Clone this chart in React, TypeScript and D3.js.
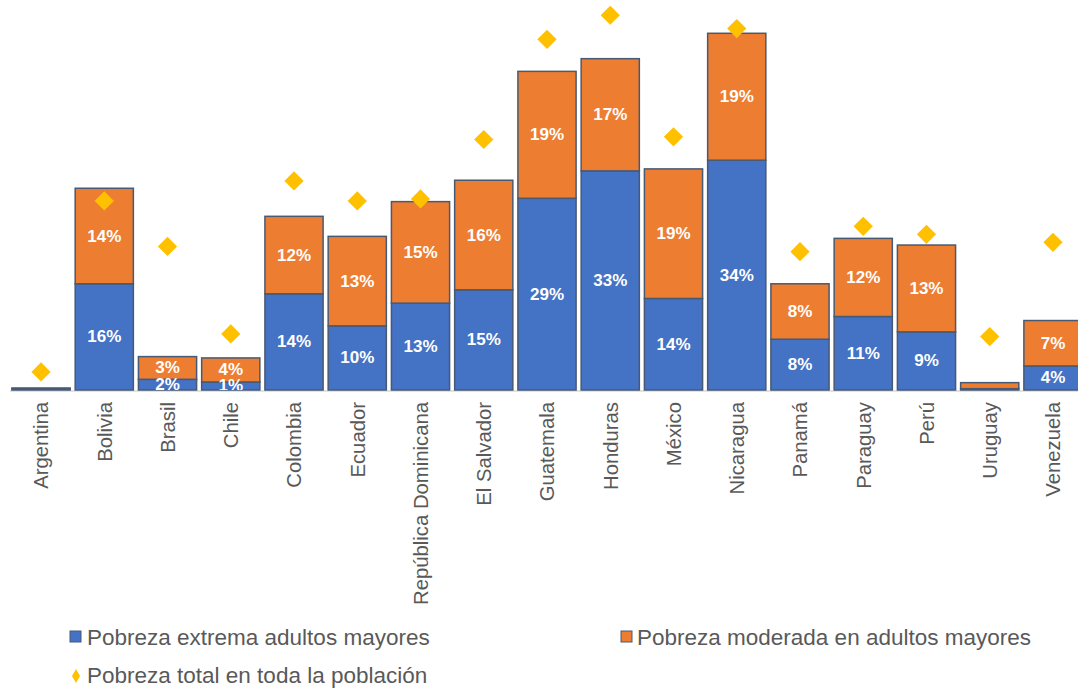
import { useEffect, useRef } from 'react';
import * as d3 from 'd3';

const categories = [
  'Argentina', 'Bolivia', 'Brasil', 'Chile', 'Colombia', 'Ecuador', 'República Dominicana',
  'El Salvador', 'Guatemala', 'Honduras', 'México', 'Nicaragua', 'Panamá', 'Paraguay',
  'Perú', 'Uruguay', 'Venezuela',
];
// % values
const extrema = [0.2, 15.9, 1.6, 1.2, 14.4, 9.6, 13.0, 15.0, 28.7, 32.8, 13.7, 34.4, 7.6, 11.0, 8.7, 0.2, 3.6];
const moderada = [0.1, 14.3, 3.4, 3.6, 11.6, 13.4, 15.2, 16.4, 19.0, 16.8, 19.4, 19.0, 8.3, 11.7, 13.0, 0.9, 6.8];
const totalPoblacion = [2.7, 28.3, 21.5, 8.4, 31.3, 28.3, 28.6, 37.5, 52.5, 56.1, 37.9, 54.1, 20.7, 24.5, 23.3, 8.0, 22.1];

const seriesNames = ['Pobreza extrema adultos mayores', 'Pobreza moderada en adultos mayores', 'Pobreza total en toda la población'];
const colors = ['#4472c4', '#ed7d31', '#ffc000'];

const W = 1078;
const H = 692;
const FONT = '"Liberation Sans", Arial, sans-serif';

export default function App() {
  const svgRef = useRef<SVGSVGElement>(null);

  useEffect(() => {
    document.body.style.margin = '0';
    if (!svgRef.current) return;
    const svg = d3.select(svgRef.current);
    svg.selectAll('*').remove();

    const baseY = 390;
    const pxPerPct = 6.68;

    const x = d3.scaleBand<string>()
      .domain(categories)
      .range([9.4, 1084.6])
      .paddingInner(0.08)
      .paddingOuter(0.04);

    const y = d3.scaleLinear()
      .domain([0, 60])
      .range([baseY, baseY - 60 * pxPerPct]);

    const defs = svg.append('defs');
    defs.append('clipPath').attr('id', 'plot-clip')
      .append('rect').attr('x', 0).attr('y', 0).attr('width', W).attr('height', baseY);

    const rows = categories.map((c, i) => ({ c, e: extrema[i], m: moderada[i], t: totalPoblacion[i] }));

    // axis line
    svg.append('line')
      .attr('x1', 10).attr('x2', W)
      .attr('y1', baseY + 1).attr('y2', baseY + 1)
      .attr('stroke', '#d9d9d9').attr('stroke-width', 1.5);

    const bars = svg.append('g');
    rows.forEach(d => {
      const bx = x(d.c)!;
      const bw = x.bandwidth();
      bars.append('rect')
        .attr('x', bx).attr('width', bw)
        .attr('y', y(d.e)).attr('height', y(0) - y(d.e))
        .attr('fill', colors[0]).attr('stroke', '#485a73').attr('stroke-width', 1.5);
      bars.append('rect')
        .attr('x', bx).attr('width', bw)
        .attr('y', y(d.e + d.m)).attr('height', y(d.e) - y(d.e + d.m))
        .attr('fill', colors[1]).attr('stroke', '#485a73').attr('stroke-width', 1.5);
    });

    const labels = svg.append('g').attr('clip-path', 'url(#plot-clip)');
    rows.forEach(d => {
      const cx = x(d.c)! + x.bandwidth() / 2;
      const segs = [
        { v: d.e, mid: (y(0) + y(d.e)) / 2 },
        { v: d.m, mid: (y(d.e) + y(d.e + d.m)) / 2 },
      ];
      segs.forEach(s => {
        if (s.v < 1) return;
        labels.append('text')
          .attr('x', cx).attr('y', s.mid)
          .attr('text-anchor', 'middle')
          .attr('dominant-baseline', 'central')
          .attr('fill', '#ffffff')
          .style('font-family', FONT)
          .style('font-size', '17px')
          .style('font-weight', 'bold')
          .text(`${Math.round(s.v)}%`);
      });
    });

    // diamonds
    const diamond = d3.symbol().type(d3.symbolSquare).size(185);
    svg.append('g').selectAll('path')
      .data(rows)
      .enter().append('path')
      .attr('d', diamond)
      .attr('transform', d => `translate(${x(d.c)! + x.bandwidth() / 2},${y(d.t)}) rotate(45)`)
      .attr('fill', colors[2]);

    // category labels
    svg.append('g').selectAll('text')
      .data(categories)
      .enter().append('text')
      .attr('transform', c => `translate(${x(c)! + x.bandwidth() / 2},402) rotate(-90)`)
      .attr('text-anchor', 'end')
      .attr('dy', '0.36em')
      .attr('fill', '#595959')
      .style('font-family', FONT)
      .style('font-size', '20.3px')
      .text(c => c);

    // legend
    const lg = svg.append('g').style('font-family', FONT).style('font-size', '22.5px');
    const sq = [
      { x: 70, tx: 87, name: seriesNames[0], color: colors[0] },
      { x: 621, tx: 637, name: seriesNames[1], color: colors[1] },
    ];
    sq.forEach(s => {
      lg.append('rect')
        .attr('x', s.x).attr('y', 631).attr('width', 11).attr('height', 11)
        .attr('fill', s.color).attr('stroke', '#485a73').attr('stroke-width', 1);
      lg.append('text').attr('x', s.tx).attr('y', 645).attr('fill', '#595959').text(s.name);
    });
    lg.append('path')
      .attr('d', d3.symbol().type(d3.symbolDiamond).size(55)())
      .attr('transform', 'translate(76,676)')
      .attr('fill', colors[2]);
    lg.append('text').attr('x', 87).attr('y', 683).attr('fill', '#595959').text(seriesNames[2]);
  }, []);

  return <svg ref={svgRef} width={W} height={H} style={{ display: 'block', background: '#ffffff' }} />;
}
